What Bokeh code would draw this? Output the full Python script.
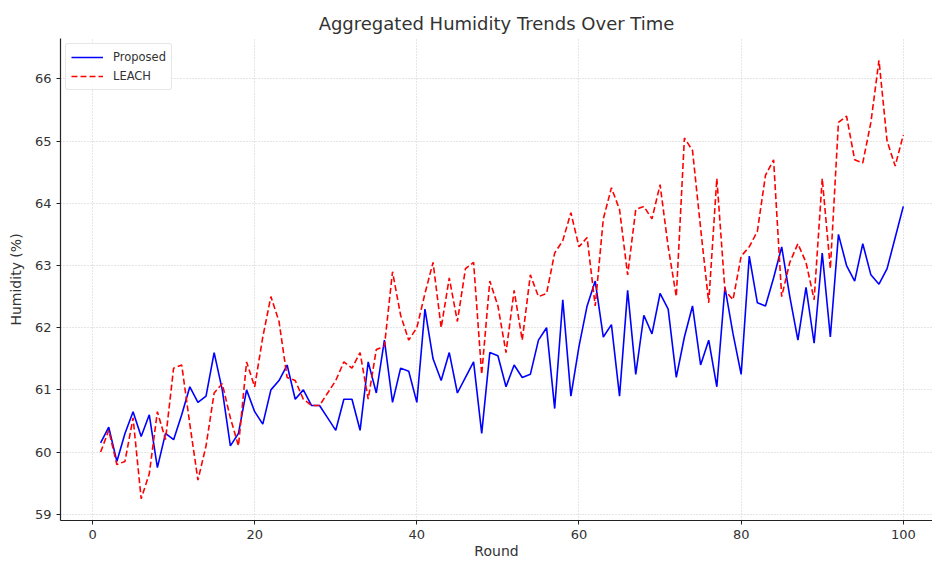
from bokeh.plotting import figure
from bokeh.models import Range1d, FixedTicker, Legend, LegendItem
from bokeh.embed import file_html
from bokeh.resources import INLINE

rounds = list(range(1, 101))
proposed = [60.15, 60.4, 59.85, 60.3, 60.65, 60.25, 60.6, 59.75, 60.3, 60.2,
            60.6, 61.05, 60.8, 60.9, 61.6, 61.0, 60.1, 60.3, 61.0, 60.65,
            60.45, 61.0, 61.15, 61.4, 60.85, 61.0, 60.75, 60.75, 60.55, 60.35,
            60.85, 60.85, 60.35, 61.45, 60.95, 61.8, 60.8, 61.35, 61.3, 60.8,
            62.3, 61.5, 61.15, 61.6, 60.95, 61.2, 61.45, 60.3, 61.6, 61.55,
            61.05, 61.4, 61.2, 61.25, 61.8, 62.0, 60.7, 62.45, 60.9, 61.7,
            62.35, 62.75, 61.85, 62.05, 60.9, 62.6, 61.25, 62.2, 61.9, 62.55,
            62.3, 61.2, 61.85, 62.35, 61.4, 61.8, 61.05, 62.65, 61.9, 61.25,
            63.15, 62.4, 62.35, 62.8, 63.3, 62.5, 61.8, 62.65, 61.75, 63.2,
            61.85, 63.5, 63.0, 62.75, 63.35, 62.85, 62.7, 62.95, 63.45, 63.95]
leach = [60.0, 60.35, 59.8, 59.85, 60.55, 59.25, 59.65, 60.65, 60.2, 61.35,
         61.4, 60.45, 59.55, 60.1, 60.95, 61.1, 60.55, 60.1, 61.45, 61.05,
         61.85, 62.5, 62.1, 61.2, 61.15, 60.85, 60.75, 60.75, 60.95, 61.15,
         61.45, 61.35, 61.6, 60.85, 61.65, 61.7, 62.9, 62.2, 61.8, 62.0,
         62.55, 63.05, 62.0, 62.8, 62.1, 62.95, 63.05, 61.25, 62.75, 62.35,
         61.6, 62.6, 61.8, 62.85, 62.5, 62.55, 63.2, 63.4, 63.85, 63.3,
         63.45, 62.35, 63.75, 64.25, 63.9, 62.85, 63.9, 63.95, 63.75, 64.3,
         63.3, 62.5, 65.05, 64.85, 63.6, 62.4, 64.4, 62.6, 62.45, 63.15,
         63.3, 63.55, 64.45, 64.7, 62.5, 63.05, 63.35, 63.05, 62.45, 64.4,
         62.95, 65.3, 65.4, 64.7, 64.65, 65.3, 66.3, 65.0, 64.6, 65.1]
x_ticks = [0, 20, 40, 60, 80, 100]
y_ticks = [59, 60, 61, 62, 63, 64, 65, 66]

FONT = "DejaVu Sans"

p = figure(width=932, height=561, output_backend="svg", toolbar_location=None,
           x_range=Range1d(-3.95, 103.6), y_range=Range1d(58.9, 66.65),
           title="Aggregated Humidity Trends Over Time")
p.min_border_left = 60
p.min_border_right = 0
p.min_border_top = 38
p.min_border_bottom = 41
p.outline_line_color = None
p.background_fill_color = "white"
p.border_fill_color = "white"

p.title.align = "center"
p.title.text_font = FONT
p.title.text_font_size = "18px"
p.title.text_font_style = "normal"
p.title.text_color = "#333333"

for ax in (p.xaxis[0], p.yaxis[0]):
    ax.axis_line_color = "#222222"
    ax.axis_line_width = 1.2
    ax.major_tick_line_color = "#222222"
    ax.major_tick_out = 4
    ax.major_tick_in = 0
    ax.minor_tick_line_color = None
    ax.major_label_text_font = FONT
    ax.major_label_text_font_size = "13px"
    ax.major_label_text_color = "#333333"
    ax.axis_label_text_font = FONT
    ax.axis_label_text_font_size = "14px"
    ax.axis_label_text_font_style = "normal"
    ax.axis_label_text_color = "#333333"

p.xaxis[0].ticker = FixedTicker(ticks=x_ticks)
p.yaxis[0].ticker = FixedTicker(ticks=y_ticks)
p.xaxis[0].axis_label = "Round"
p.yaxis[0].axis_label = "Humidity (%)"
p.xaxis[0].axis_label_standoff = 1
p.xaxis[0].major_label_standoff = 5
p.yaxis[0].axis_label_standoff = 8

for g in (p.xgrid[0], p.ygrid[0]):
    g.grid_line_color = "#b0b0b0"
    g.grid_line_dash = "1 2"
    g.grid_line_width = 0.8
    g.grid_line_alpha = 0.8
p.xgrid[0].ticker = FixedTicker(ticks=x_ticks)
p.ygrid[0].ticker = FixedTicker(ticks=y_ticks)

r1 = p.line(rounds, proposed, line_color="#0000ff", line_width=1.6)
r2 = p.line(rounds, leach, line_color="#ff0000", line_width=1.6, line_dash="6 3")

legend = Legend(items=[LegendItem(label="Proposed", renderers=[r1]),
                       LegendItem(label="LEACH", renderers=[r2])],
                location="top_left")
legend.label_text_font = FONT
legend.label_text_font_size = "11.5px"
legend.label_text_color = "#333333"
legend.border_line_color = "#d0d0d0"
legend.border_line_width = 1
legend.border_radius = 3
legend.background_fill_alpha = 0.9
legend.glyph_width = 32
legend.glyph_height = 16
legend.label_height = 16
legend.spacing = 3
legend.padding = 5
legend.margin = 5
legend.label_standoff = 10
p.add_layout(legend)

open("out.html", "w").write(file_html(p, INLINE))
